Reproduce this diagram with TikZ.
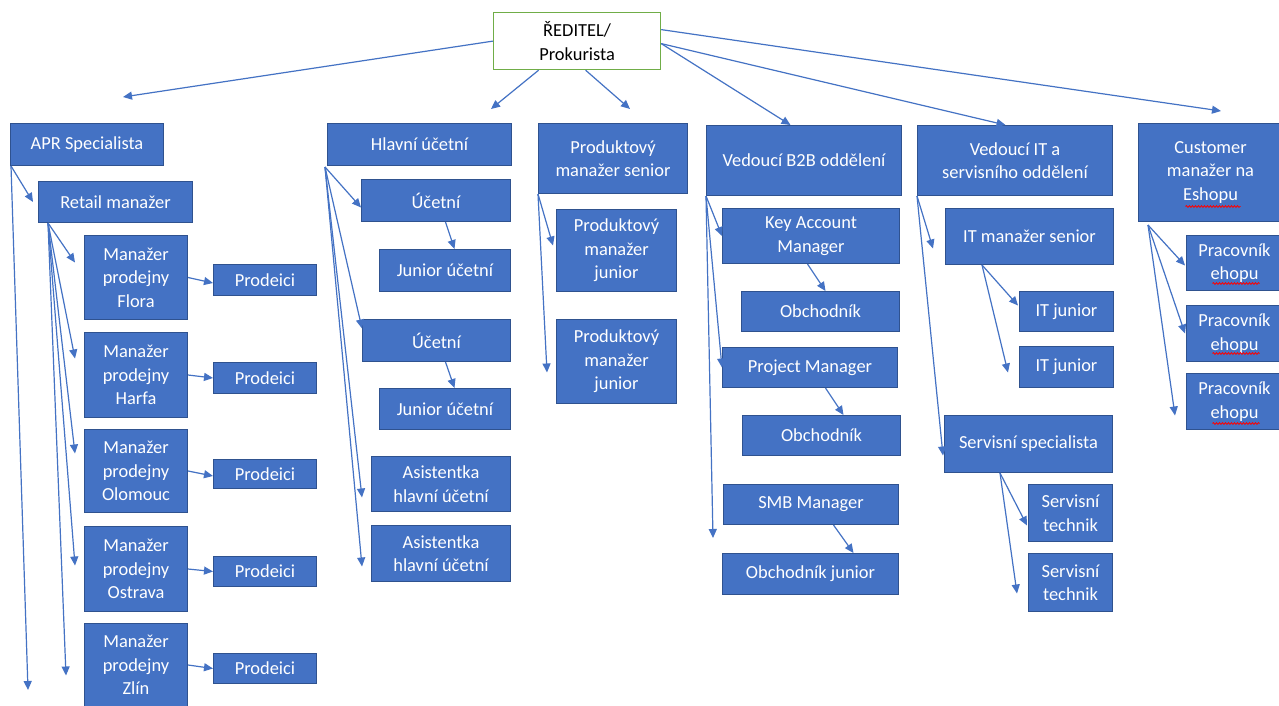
\documentclass[tikz,border=0pt]{standalone}
\usepackage{fontspec}
\setmainfont{Carlito}
\usetikzlibrary{arrows.meta,decorations.pathmorphing}
\definecolor{boxblue}{HTML}{4472C4}
\definecolor{boxedge}{HTML}{2F528F}
\definecolor{dirgreen}{HTML}{70AD47}
\newcommand\obox[7][bbox]{%
  \pgfmathsetmacro\obw{#5-#3}\pgfmathsetmacro\obh{#6-#4}%
  \node[#1,minimum width=\obw pt,minimum height=\obh pt,anchor=north west] (#2) at (#3,#4) {#7};}
\begin{document}
\begin{tikzpicture}[x=1pt,y=-1pt,
  bbox/.style={draw=boxedge,line width=1pt,fill=boxblue,text=white,align=center,inner sep=2pt,
    font=\fontsize{18.4}{23.5}\selectfont},
  dirbox/.style={draw=dirgreen,line width=1.2pt,fill=white,text=black,align=center,inner sep=2pt,
    font=\fontsize{18.4}{23.5}\selectfont},
  conn/.style={draw=boxblue,line width=1.2pt,-{Triangle[length=9pt,width=8pt]}},
  squig/.style={draw=red,line width=0.8pt,decorate,decoration={snake,amplitude=0.9pt,segment length=3pt}}]
\fill[white] (0,0) rectangle (1279,706);
\useasboundingbox (0,0) rectangle (1279,706);
% nodes
\obox[dirbox]{dir}{493}{12}{660}{69}{ŘEDITEL/\\Prokurista}
\obox{apr}{10}{123}{163}{165}{APR Specialista}
\obox{retail}{38}{181}{192}{222}{Retail manažer}
\obox{flora}{84}{235}{187}{319}{Manažer\\prodejny\\Flora}
\obox{harfa}{84}{332}{187}{417}{Manažer\\prodejny\\Harfa}
\obox{olom}{84}{429}{187}{512}{Manažer\\prodejny\\Olomouc}
\obox{ostr}{84}{526}{187}{611}{Manažer\\prodejny\\Ostrava}
\obox{zlin}{84}{623}{187}{706}{Manažer\\prodejny\\Zlín}
\obox{pd1}{213}{264}{316}{295}{Prodeici}
\obox{pd2}{213}{362}{316}{393}{Prodeici}
\obox{pd3}{213}{459}{316}{488}{Prodeici}
\obox{pd4}{213}{556}{316}{586}{Prodeici}
\obox{pd5}{213}{653}{316}{683}{Prodeici}
\obox{hlav}{327}{123}{511}{165}{Hlavní účetní}
\obox{uc1}{361}{179}{510}{221}{Účetní}
\obox{jun1}{379}{249}{510}{291}{Junior účetní}
\obox{uc2}{362}{319}{510}{361}{Účetní}
\obox{jun2}{379}{388}{510}{429}{Junior účetní}
\obox{asi1}{371}{456}{510}{511}{Asistentka\\hlavní účetní}
\obox{asi2}{371}{525}{510}{581}{Asistentka\\hlavní účetní}
\obox{ps}{538}{123}{687}{193}{Produktový\\manažer senior}
\obox{pj1}{556}{209}{676}{291}{Produktový\\manažer\\junior}
\obox{pj2}{556}{319}{676}{403}{Produktový\\manažer\\junior}
\obox{b2b}{706}{125}{901}{195}{Vedoucí B2B oddělení}
\obox{kam}{722}{208}{899}{263}{Key Account\\Manager}
\obox{ob1}{741}{291}{899}{331}{Obchodník}
\obox{pm}{722}{347}{897}{387}{Project Manager}
\obox{ob2}{742}{415}{900}{455}{Obchodník}
\obox{smb}{723}{484}{898}{524}{SMB Manager}
\obox{obj}{722}{553}{898}{594}{Obchodník junior}
\obox{vit}{917}{125}{1112}{195}{Vedoucí IT a\\servisního oddělení}
\obox{itms}{945}{208}{1113}{264}{IT manažer senior}
\obox{itj1}{1019}{291}{1113}{331}{IT junior}
\obox{itj2}{1019}{346}{1113}{387}{IT junior}
\obox{ss}{944}{415}{1112}{472}{Servisní specialista}
\obox{st1}{1028}{484}{1112}{541}{Servisní\\technik}
\obox{st2}{1028}{553}{1112}{611}{Servisní\\technik}
\obox{cust}{1138}{123}{1282}{221}{Customer\\manažer na\\Eshopu}
\obox{pr1}{1186}{235}{1282}{290}{Pracovník\\ehopu}
\obox{pr2}{1186}{305}{1282}{361}{Pracovník\\ehopu}
\obox{pr3}{1186}{373}{1282}{429}{Pracovník\\ehopu}
% free ends
\coordinate (eA) at (123,97);
\coordinate (eB) at (491,109);
\coordinate (eC) at (630,109);
\coordinate (eD) at (1221,111);
\coordinate (eE) at (28,690);
% director
\draw[conn] (dir.west) -- (eA);
\draw[conn] ([xshift=-38.5pt]dir.south) -- (eB);
\draw[conn] ([xshift=8.5pt]dir.south) -- (eC);
\draw[conn] ([yshift=11.5pt]dir.east) -- (eD);
\draw[conn] ([yshift=-2.5pt]dir.east) -- ([xshift=-13.5pt]b2b.north);
\draw[conn] ([yshift=-2.5pt]dir.east) -- ([xshift=-9.5pt]vit.north);
% APR column
\draw[conn] ([xshift=1pt]apr.south west) -- ([xshift=-5pt]retail.west);
\draw[conn] ([xshift=1pt]apr.south west) -- (eE);
\draw[conn] ([xshift=10pt]retail.south west) -- ([xshift=-9pt,yshift=15pt]flora.west);
\draw[conn] ([xshift=10pt]retail.south west) -- ([xshift=-9pt,yshift=16.5pt]harfa.west);
\draw[conn] ([xshift=10pt]retail.south west) -- ([xshift=-9pt,yshift=17.5pt]olom.west);
\draw[conn] ([xshift=10pt]retail.south west) -- ([xshift=-9pt,yshift=3.5pt]ostr.west);
\draw[conn] ([xshift=10pt]retail.south west) -- ([xshift=-18pt,yshift=-10.5pt]zlin.west);
\draw[conn] (flora.east) -- ([yshift=-3pt]pd1.west);
\draw[conn] (harfa.east) -- (pd2.west);
\draw[conn] (olom.east) -- ([yshift=-2pt]pd3.west);
\draw[conn] (ostr.east) -- (pd4.west);
\draw[conn] (zlin.east) -- (pd5.west);
% Hlavni column
\draw[conn] ([xshift=-2pt,yshift=-1pt]hlav.south west) -- ([yshift=-7pt]uc1.west);
\draw[conn] ([xshift=-2pt,yshift=-1pt]hlav.south west) -- ([yshift=12pt]uc2.west);
\draw[conn] ([xshift=-2pt,yshift=-1pt]hlav.south west) -- ([xshift=-9pt,yshift=-13.5pt]asi1.west);
\draw[conn] ([xshift=-2pt,yshift=-1pt]hlav.south west) -- ([xshift=-9pt,yshift=-13pt]asi2.west);
\draw[conn] ([xshift=9.5pt]uc1.south) -- ([xshift=9.5pt]jun1.north);
\draw[conn] ([xshift=9pt]uc2.south) -- ([xshift=9.5pt]jun2.north);
% Produktovy column
\draw[conn] (ps.south west) -- ([xshift=-3pt,yshift=5pt]pj1.west);
\draw[conn] (ps.south west) -- ([xshift=-9pt,yshift=-11pt]pj2.west);
% B2B column
\draw[conn] (b2b.south west) -- (kam.west);
\draw[conn] (b2b.south west) -- (pm.west);
\draw[conn] (b2b.south west) -- ([xshift=-10pt,yshift=-13pt]smb.south west);
\draw[conn] ([xshift=-3.5pt]kam.south) -- ([xshift=5pt]ob1.north);
\draw[conn] ([xshift=15.5pt]pm.south) -- ([xshift=22pt]ob2.north);
\draw[conn] ([xshift=22.5pt]smb.south) -- ([xshift=43pt]obj.north);
% IT column
\draw[conn] (vit.south west) -- ([xshift=-12pt,yshift=-12pt]itms.west);
\draw[conn] (vit.south west) -- ([xshift=-1pt,yshift=-11.5pt]ss.west);
\draw[conn] ([xshift=37pt]itms.south west) -- ([xshift=-1pt,yshift=6pt]itj1.west);
\draw[conn] ([xshift=37pt]itms.south west) -- ([xshift=-11pt,yshift=-5.5pt]itj2.west);
\draw[conn] ([xshift=56pt]ss.south west) -- ([xshift=-1pt,yshift=-12.5pt]st1.west);
\draw[conn] ([xshift=56pt]ss.south west) -- ([xshift=-11pt,yshift=-11pt]st2.west);
% Customer column
\draw[conn] ([xshift=10pt,yshift=-3pt]cust.south west) -- ([xshift=-1pt,yshift=-2.5pt]pr1.west);
\draw[conn] ([xshift=10pt,yshift=-3pt]cust.south west) -- ([xshift=-1pt]pr2.west);
\draw[conn] ([xshift=10pt,yshift=-3pt]cust.south west) -- ([xshift=-11pt,yshift=-14pt]pr3.west);
% spell-check underlines
\draw[squig] ([xshift=-25pt,yshift=-34pt]cust.center) -- ([xshift=30pt,yshift=-34pt]cust.center);
\draw[squig] ([xshift=-22pt,yshift=-20.5pt]pr1.center) -- ([xshift=25pt,yshift=-20.5pt]pr1.center);
\draw[squig] ([xshift=-22pt,yshift=-20pt]pr2.center) -- ([xshift=25pt,yshift=-20pt]pr2.center);
\draw[squig] ([xshift=-22pt,yshift=-22pt]pr3.center) -- ([xshift=25pt,yshift=-22pt]pr3.center);
\end{tikzpicture}
\end{document}
